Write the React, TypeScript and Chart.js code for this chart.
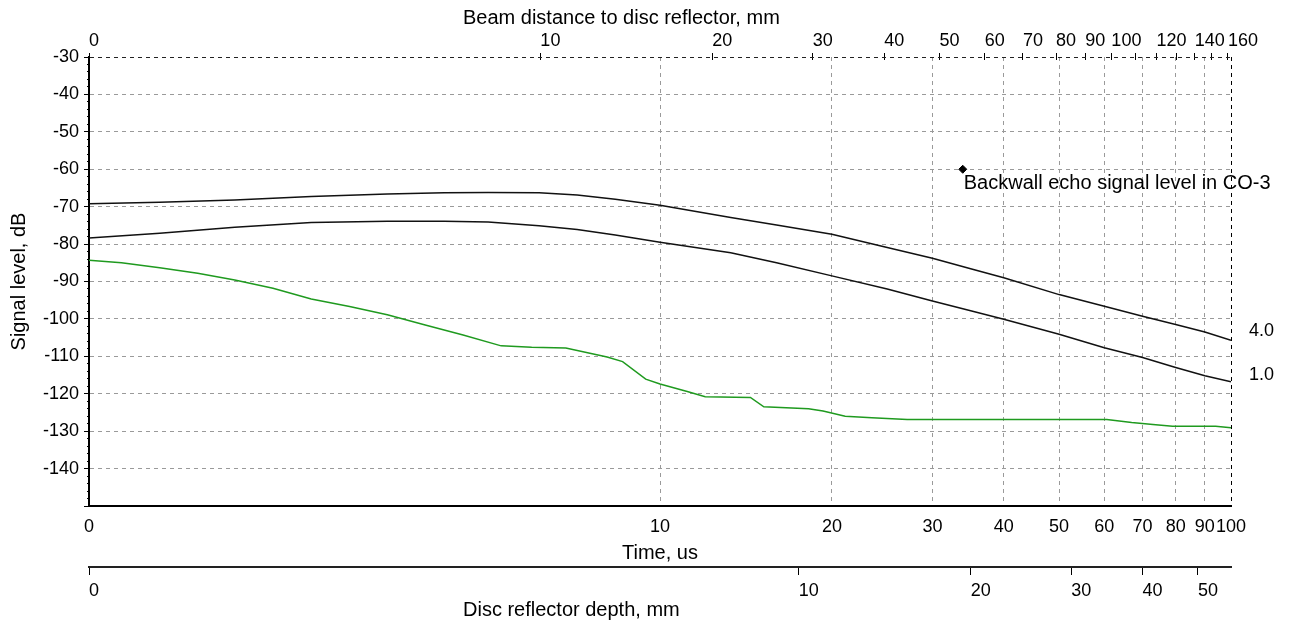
import React, { useEffect, useRef } from 'react';
import { Chart, registerables } from 'chart.js';

Chart.register(...registerables);

// ---- axis conversion factors (time in us -> other axes) ----
const BEAM_MM_PER_US = 1.62;
const DEPTH_MM_PER_US = 1 / 1.75;

// ---- time axis (bottom) ----
const timeTicks = [1, 10, 20, 30, 40, 50, 60, 70, 80, 90, 100];
const timeTickLabels = ['0', '10', '20', '30', '40', '50', '60', '70', '80', '90', '100'];

// ---- beam distance axis (top) ----
const beamTicks = [BEAM_MM_PER_US, 10, 20, 30, 40, 50, 60, 70, 80, 90, 100, 110, 120, 130, 140, 150, 160];
const beamTickLabels = ['0', '10', '20', '30', '40', '50', '60', '70', '80', '90', '100', '', '120', '', '140', '', '160'];

// ---- depth axis (second bottom) ----
const depthTicks = [DEPTH_MM_PER_US, 10, 20, 30, 40, 50];
const depthTickLabels = ['0', '10', '20', '30', '40', '50'];

// ---- level axis ----
const levelMajorTicks = [-150, -140, -130, -120, -110, -100, -90, -80, -70, -60, -50, -40, -30];

// ---- curve end labels (right) ----
const rightLabelLevels = [-103.3, -115.0];
const rightLabels = ['4.0', '1.0'];

// ---- titles ----
const beamTitle = 'Beam distance to disc reflector, mm';
const timeTitle = 'Time, us';
const depthTitle = 'Disc reflector depth, mm';
const levelTitle = 'Signal level, dB';

// ---- series ----
const blackTime = [1, 1.33, 1.8, 2.45, 3.33, 4.19, 5, 6.14, 7.16, 8.35, 10, 13.3, 16, 20, 25, 30, 35, 40, 50, 60, 70, 80, 90, 100];
const level40 = [-69.2, -68.8, -68.2, -67.3, -66.6, -66.3, -66.2, -66.3, -66.9, -68.0, -69.6, -72.9, -74.9, -77.4, -80.9, -83.8, -86.6, -89.0, -93.5, -96.6, -99.3, -101.5, -103.5, -105.7];
const level10 = [-78.4, -77.1, -75.5, -74.2, -73.9, -73.9, -74.1, -75.1, -76.1, -77.6, -79.5, -82.3, -85.0, -88.5, -92.0, -95.2, -97.8, -100.1, -104.1, -107.7, -110.3, -113.0, -115.2, -116.8];

const greenTime = [1, 1.14, 1.33, 1.55, 1.8, 2.1, 2.45, 2.86, 3.33, 3.88, 4.52, 5.27, 5.96, 6.84, 8.08, 8.6, 9.44, 10, 11.16, 12, 14.4, 15.2, 18.2, 19.3, 21.1, 23.5, 27.1, 60.6, 67, 73, 79, 94, 100];
const greenLevel = [-84.3, -85.0, -86.3, -87.8, -89.6, -91.8, -94.7, -96.7, -98.9, -101.6, -104.3, -107.2, -107.6, -107.8, -110.2, -111.4, -116.1, -117.4, -119.4, -120.8, -121.0, -123.5, -124.0, -124.6, -126.0, -126.4, -126.9, -126.9, -127.7, -128.2, -128.7, -128.7, -129.1];

const backwallTime = [33.9];
const backwallLevel = [-60];
const backwallLabel = 'Backwall echo signal level in CO-3';

const FONT = "'Liberation Sans', Arial, sans-serif";
const GRID = '#9a9a9a';
const TICK_SIZE = 18;
const TITLE_SIZE = 20;

const pairs = (xs: number[], ys: number[]) => xs.map((x, i) => ({ x, y: ys[i] }));

const textPlugin = {
  id: 'extraText',
  afterDatasetsDraw(chart: any) {
    const ctx = chart.ctx;
    const area = chart.chartArea;
    ctx.save();
    ctx.font = `${TITLE_SIZE}px ${FONT}`;
    ctx.fillStyle = '#000';
    ctx.textAlign = 'left';
    ctx.textBaseline = 'middle';
    const meta = chart.getDatasetMeta(3);
    const el = meta && meta.data[0];
    if (el) ctx.fillText(backwallLabel, el.x + 1, el.y + 14);
    // titles of the beam and depth axes (drawn left-aligned as in the source UI)
    const beam = chart.scales.beam;
    const depth = chart.scales.depth;
    ctx.fillText(beamTitle, area.left + 374, beam.top + 18);
    ctx.fillText(depthTitle, area.left + 374, depth.bottom - 18);
    ctx.restore();
  },
};

export default function App() {
  const ref = useRef<HTMLCanvasElement | null>(null);

  useEffect(() => {
    document.body.style.margin = '0';
    const canvas = ref.current;
    if (!canvas) return;
    Chart.defaults.font.family = FONT;
    Chart.defaults.font.size = TICK_SIZE;
    Chart.defaults.color = '#000';

    const setTicks = (vals: number[]) => (s: any) => {
      s.ticks = vals.map((v) => ({ value: v }));
    };

    const chart = new Chart(canvas, {
      type: 'line',
      data: {
        datasets: [
          {
            label: '4.0',
            data: pairs(blackTime, level40),
            borderColor: '#111',
            borderWidth: 1.5,
            pointRadius: 0,
            xAxisID: 'x',
            yAxisID: 'y',
          },
          {
            label: '1.0',
            data: pairs(blackTime, level10),
            borderColor: '#111',
            borderWidth: 1.5,
            pointRadius: 0,
            xAxisID: 'x',
            yAxisID: 'y',
          },
          {
            label: 'green',
            data: pairs(greenTime, greenLevel),
            borderColor: '#1f9a1f',
            borderWidth: 1.5,
            pointRadius: 0,
            xAxisID: 'x',
            yAxisID: 'y',
          },
          {
            label: 'backwall',
            data: pairs(backwallTime, backwallLevel),
            showLine: false,
            pointStyle: 'rectRot',
            pointRadius: 4,
            backgroundColor: '#000',
            borderColor: '#000',
            xAxisID: 'x',
            yAxisID: 'y',
          },
        ],
      },
      options: {
        animation: false,
        responsive: false,
        devicePixelRatio: 1,
        layout: { padding: 0 },
        plugins: { legend: { display: false }, tooltip: { enabled: false } },
        scales: {
          x: {
            type: 'logarithmic',
            position: 'bottom',
            min: 1,
            max: 100,
            weight: 0,
            afterBuildTicks: setTicks(timeTicks),
            afterFit: (s: any) => { s.height = 61; },
            ticks: {
              autoSkip: false,
              maxRotation: 0,
              padding: 10,
              callback: (_v: any, i: number) => timeTickLabels[i],
            },
            grid: {
              drawTicks: false,
              lineWidth: 1,
              color: (c: any) => (c.tick && c.tick.value === 100 ? '#000' : c.tick && c.tick.value === 1 ? 'rgba(0,0,0,0)' : GRID),
            },
            border: { display: true, color: '#000', width: 2, dash: [4, 4] },
            title: { display: true, text: timeTitle, font: { size: TITLE_SIZE }, padding: { top: 0, bottom: 2 } },
          },
          depth: {
            axis: 'x',
            type: 'logarithmic',
            position: 'bottom',
            min: DEPTH_MM_PER_US,
            max: 100 * DEPTH_MM_PER_US,
            weight: 1,
            afterBuildTicks: setTicks(depthTicks),
            afterFit: (s: any) => { s.height = 61; },
            ticks: {
              autoSkip: false,
              maxRotation: 0,
              align: 'start',
              padding: 5,
              callback: (_v: any, i: number) => depthTickLabels[i],
            },
            grid: { drawOnChartArea: false, drawTicks: true, tickLength: 8, tickColor: '#000', color: '#000' },
            border: { display: true, color: '#222', width: 2 },
            title: { display: false },
          },
          beam: {
            axis: 'x',
            type: 'logarithmic',
            position: 'top',
            min: BEAM_MM_PER_US,
            max: 100 * BEAM_MM_PER_US,
            afterBuildTicks: setTicks(beamTicks),
            afterFit: (s: any) => { s.height = 57; },
            ticks: {
              autoSkip: false,
              maxRotation: 0,
              align: 'start',
              padding: 1,
              callback: (_v: any, i: number) => beamTickLabels[i],
            },
            grid: { drawOnChartArea: false, drawTicks: true, tickLength: 4, tickColor: '#000', color: '#000' },
            border: { display: false },
            title: { display: false },
          },
          beamIn: {
            axis: 'x',
            type: 'logarithmic',
            position: { y: -30 },
            min: BEAM_MM_PER_US,
            max: 100 * BEAM_MM_PER_US,
            afterBuildTicks: setTicks(beamTicks.slice(1)),
            afterFit: (s: any) => { s.height = 0; },
            ticks: { display: false, autoSkip: false },
            grid: { drawOnChartArea: false, drawTicks: true, tickLength: 3, tickColor: '#000', color: '#000' },
            border: { display: false },
          },
          y: {
            type: 'linear',
            position: 'left',
            min: -150,
            max: -30,
            afterBuildTicks: setTicks(levelMajorTicks),
            afterFit: (s: any) => { s.width = 89; },
            ticks: {
              autoSkip: false,
              padding: 5,
              callback: (v: any) => (Number(v) > -150 ? String(v) : ''),
            },
            grid: {
              lineWidth: 1,
              tickLength: 5,
              tickColor: '#000',
              color: (c: any) => {
                const v = c.tick ? c.tick.value : 0;
                if (v === -30) return '#222';
                if (v > -150) return GRID;
                return 'rgba(0,0,0,0)';
              },
            },
            border: { display: true, color: '#000', width: 2, dash: [4, 4] },
            title: { display: true, text: levelTitle, font: { size: TITLE_SIZE }, padding: { top: 7, bottom: 0 } },
          },
          yminor: {
            axis: 'y',
            type: 'linear',
            position: { x: 1 },
            min: -150,
            max: -30,
            afterFit: (s: any) => { s.width = 0; },
            ticks: { stepSize: 2, autoSkip: false, display: false },
            grid: { drawOnChartArea: false, drawTicks: true, tickLength: 2, tickColor: '#000', color: '#000' },
            border: { display: false },
          },
          yr: {
            axis: 'y',
            type: 'linear',
            position: 'right',
            min: -150,
            max: -30,
            afterBuildTicks: setTicks(rightLabelLevels),
            afterFit: (s: any) => { s.width = 59; },
            ticks: {
              autoSkip: false,
              padding: 18,
              callback: (_v: any, i: number) => rightLabels[i],
            },
            grid: { display: false, drawTicks: false },
            border: { display: false },
          },
        },
      } as any,
      plugins: [textPlugin],
    });
    return () => chart.destroy();
  }, []);

  return (
    <div style={{ width: 1290, height: 628 }}>
      <canvas ref={ref} width={1290} height={628} style={{ display: 'block' }} />
    </div>
  );
}
